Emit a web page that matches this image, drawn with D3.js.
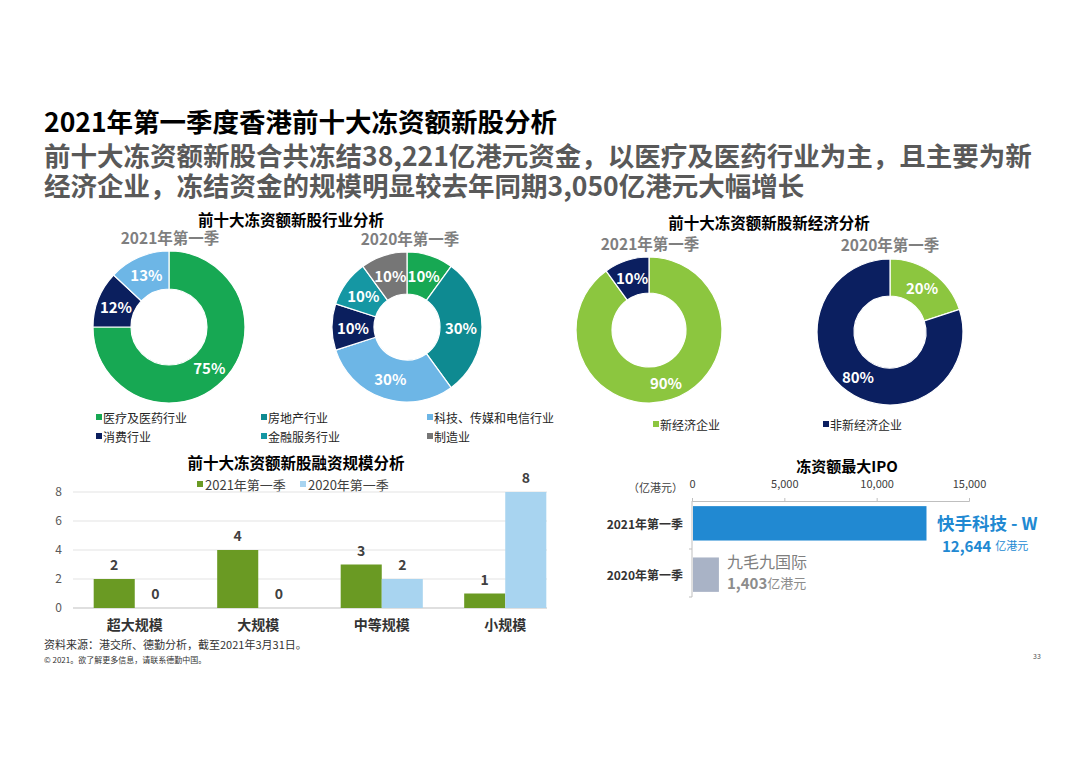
<!DOCTYPE html>
<html><head><meta charset="utf-8">
<script src="https://cdn.jsdelivr.net/npm/d3@7"></script>
<style>
body{margin:0;background:#fff;}
svg text{font-family:"Noto Sans CJK SC","Noto Sans",sans-serif;}
</style></head>
<body><svg id="c" width="1080" height="763"></svg>
<script>
// ---------- data ----------
const titleText = "2021年第一季度香港前十大冻资额新股分析";
const subtitleLines = ["前十大冻资额新股合共冻结38,221亿港元资金，以医疗及医药行业为主，且主要为新",
                       "经济企业，冻结资金的规模明显较去年同期3,050亿港元大幅增长"];

const industryLegend = ["医疗及医药行业","房地产行业","科技、传媒和电信行业","消费行业","金融服务行业","制造业"];
const industryColors = ["#17A853","#0E8A91","#6DB6E6","#0B1F5E","#1597A3","#767676"];
const industry2021Cats = ["医疗及医药行业","消费行业","科技、传媒和电信行业"];
const industry2021Vals = [75,12,13];
const industry2020Cats = ["医疗及医药行业","房地产行业","科技、传媒和电信行业","消费行业","金融服务行业","制造业"];
const industry2020Vals = [10,30,30,10,10,10];

const econCats = ["新经济企业","非新经济企业"];
const econColors = ["#8CC63F","#0B1F60"];
const econ2021Vals = [90,10];
const econ2020Vals = [20,80];

const sizeCats = ["超大规模","大规模","中等规模","小规模"];
const sizeSeries = ["2021年第一季","2020年第一季"];
const sizeColors = ["#6A9A23","#A8D4F0"];
const size2021 = [2,4,3,1];
const size2020 = [0,0,2,8];
const sizeTicks = [0,2,4,6,8];

const ipoCats = ["2021年第一季","2020年第一季"];
const ipoVals = [12644,1403];
const ipoNames = ["快手科技 - W","九毛九国际"];
const ipoColors = ["#2189D2","#A9B3C6"];
const ipoTicks = [0,5000,10000,15000];

// ---------- drawing ----------
const svg = d3.select("#c");
const CJK = '"Noto Sans CJK SC","Noto Sans",sans-serif';

svg.append("text").attr("x",44).attr("y",132).attr("font-size",26.5).attr("font-weight","bold")
  .attr("fill","#000").text(titleText);
subtitleLines.forEach((t,i)=>{
  svg.append("text").attr("x",44).attr("y",166+i*30).attr("font-size",26.5).attr("font-weight","bold")
    .attr("fill","#595959").text(t);
});

function centerText(x,y,t,size,color,weight){
  return svg.append("text").attr("x",x).attr("y",y).attr("text-anchor","middle")
    .attr("dominant-baseline","central").attr("font-size",size)
    .attr("font-weight",weight||"bold").attr("fill",color).text(t);
}

function donut(cx,cy,rOut,rIn,cats,vals,colorScale){
  const g = svg.append("g").attr("transform",`translate(${cx},${cy})`);
  const data = cats.map((c,i)=>({c,v:vals[i]}));
  const pie = d3.pie().sort(null).value(d=>d.v);
  const arc = d3.arc().innerRadius(rIn).outerRadius(rOut);
  const arcs = pie(data);
  g.selectAll("path").data(arcs).join("path").attr("d",arc)
    .attr("fill",d=>colorScale(d.data.c)).attr("stroke","#fff").attr("stroke-width",1.2);
  g.selectAll("text").data(arcs).join("text")
    .attr("transform",d=>`translate(${arc.centroid(d)})`)
    .attr("text-anchor","middle").attr("dominant-baseline","central")
    .attr("font-size",15).attr("font-weight","bold").attr("fill","#fff")
    .text(d=>d.data.v+"%");
}

// industry donuts
const indColor = d3.scaleOrdinal().domain(industryLegend).range(industryColors);
centerText(291,219,"前十大冻资额新股行业分析",15.5,"#000");
centerText(170,237,"2021年第一季",15.5,"#7F7F7F");
centerText(410,238,"2020年第一季",15.5,"#7F7F7F");
donut(169,327,76,38,industry2021Cats,industry2021Vals,indColor);
donut(407,327,75,33,industry2020Cats,industry2020Vals,indColor);
const legX = [96,261,427], legY=[417,436];
industryLegend.forEach((c,i)=>{
  const x = legX[i%3], y = legY[Math.floor(i/3)];
  svg.append("rect").attr("x",x).attr("y",y-3).attr("width",6).attr("height",6).attr("fill",indColor(c));
  svg.append("text").attr("x",x+7).attr("y",y).attr("dominant-baseline","central")
    .attr("font-size",12).attr("fill","#262626").text(c);
});

// new economy donuts
const ecoColor = d3.scaleOrdinal().domain(econCats).range(econColors);
centerText(769,222,"前十大冻资额新股新经济分析",15.5,"#000");
centerText(650,243,"2021年第一季",15.5,"#7F7F7F");
centerText(890,244,"2020年第一季",15.5,"#7F7F7F");
donut(649,330,73,37,econCats,econ2021Vals,ecoColor);
donut(890,332,73,36,econCats,econ2020Vals,ecoColor);
[653,823].forEach((x,i)=>{
  svg.append("rect").attr("x",x).attr("y",421).attr("width",6).attr("height",6).attr("fill",econColors[i]);
  svg.append("text").attr("x",x+7).attr("y",424).attr("dominant-baseline","central")
    .attr("font-size",12).attr("fill","#262626").text(econCats[i]);
});

// bar chart
centerText(296,462,"前十大冻资额新股融资规模分析",15.5,"#000");
const blx=[197,300];
sizeSeries.forEach((s,i)=>{
  svg.append("rect").attr("x",blx[i]).attr("y",481).attr("width",6).attr("height",6).attr("fill",sizeColors[i]);
  svg.append("text").attr("x",blx[i]+8).attr("y",484).attr("dominant-baseline","central")
    .attr("font-size",13).attr("fill","#404040").text(s);
});
const y = d3.scaleLinear().domain([0,8]).range([608,492]);
const x0 = d3.scaleBand().domain(sizeCats).range([73,567]).paddingInner(0.335).paddingOuter(0.1675);
const x1 = d3.scaleBand().domain(sizeSeries).range([0,x0.bandwidth()]);
const gridG = svg.append("g");
sizeTicks.forEach(t=>{
  gridG.append("line").attr("x1",73).attr("x2",547).attr("y1",y(t)).attr("y2",y(t))
    .attr("stroke",t===0?"#BFBFBF":"#E3E3E3").attr("stroke-width",1);
});
const yAxis = svg.append("g").attr("transform","translate(62,0)")
  .call(d3.axisLeft(y).tickValues(sizeTicks).tickSize(0).tickPadding(0));
yAxis.select(".domain").remove();
yAxis.selectAll("text").attr("font-size",12).attr("fill","#595959").attr("font-family",CJK);
const barData = [];
sizeCats.forEach((c,i)=>{
  barData.push({c,s:sizeSeries[0],v:size2021[i],col:sizeColors[0]});
  barData.push({c,s:sizeSeries[1],v:size2020[i],col:sizeColors[1]});
});
svg.append("g").selectAll("rect").data(barData).join("rect")
  .attr("x",d=>x0(d.c)+x1(d.s)).attr("width",x1.bandwidth())
  .attr("y",d=>y(d.v)).attr("height",d=>y(0)-y(d.v)).attr("fill",d=>d.col);
svg.append("g").selectAll("text").data(barData).join("text")
  .attr("x",d=>x0(d.c)+x1(d.s)+x1.bandwidth()/2).attr("y",d=>y(d.v)-9)
  .attr("text-anchor","middle").attr("font-size",14).attr("font-weight","bold").attr("fill","#404040")
  .text(d=>d.v);
const xAxis = svg.append("g").attr("transform","translate(0,608)")
  .call(d3.axisBottom(x0).tickSize(0).tickPadding(12));
xAxis.select(".domain").remove();
xAxis.selectAll("text").attr("font-size",14).attr("font-weight","bold").attr("fill","#333").attr("font-family",CJK);

// footnotes
svg.append("text").attr("x",44).attr("y",649).attr("font-size",11).attr("fill","#333")
  .text("资料来源：港交所、德勤分析，截至2021年3月31日。");
svg.append("text").attr("x",44).attr("y",663).attr("font-size",8).attr("fill","#333")
  .text("© 2021。欲了解更多信息，请联系德勤中国。");
svg.append("text").attr("x",1033).attr("y",659).attr("font-size",7).attr("fill","#555").text("33");

// IPO chart
centerText(847,465,"冻资额最大IPO",15,"#000");
const xi = d3.scaleLinear().domain([0,15000]).range([692,969]);
const yi = d3.scaleBand().domain(ipoCats).range([501,597]).paddingInner(0.33).paddingOuter(0.1);
const ia = svg.append("g").attr("transform","translate(0,501)")
  .call(d3.axisTop(xi).tickValues(ipoTicks).tickFormat(d3.format(",")).tickSize(3).tickPadding(10));
ia.select(".domain").attr("stroke","#BFBFBF");
ia.selectAll("line").attr("stroke","#BFBFBF");
ia.selectAll("text").attr("font-size",11).attr("fill","#404040").attr("font-family",CJK);
svg.append("text").attr("x",683).attr("y",487).attr("text-anchor","end").attr("dominant-baseline","central")
  .attr("font-size",11).attr("fill","#404040").text("（亿港元）");
svg.append("line").attr("x1",692).attr("x2",692).attr("y1",501).attr("y2",597).attr("stroke","#BFBFBF");
[549,597].forEach(v=>svg.append("line").attr("x1",689).attr("x2",692).attr("y1",v).attr("y2",v).attr("stroke","#BFBFBF"));
svg.append("g").selectAll("rect").data(ipoCats).join("rect")
  .attr("x",xi(0)+1).attr("y",d=>yi(d)).attr("height",yi.bandwidth())
  .attr("width",(d,i)=>xi(ipoVals[i])-xi(0)).attr("fill",(d,i)=>ipoColors[i]);
ipoCats.forEach((c,i)=>{
  svg.append("text").attr("x",683).attr("y",yi(c)+yi.bandwidth()/2).attr("text-anchor","end")
    .attr("dominant-baseline","central").attr("font-size",12).attr("font-weight","bold").attr("fill","#333").text(c);
});
svg.append("text").attr("x",937).attr("y",522).attr("dominant-baseline","central")
  .attr("font-size",17.5).attr("font-weight","bold").attr("fill",ipoColors[0]).text(ipoNames[0]);
const t1 = svg.append("text").attr("x",942).attr("y",545).attr("dominant-baseline","central");
t1.append("tspan").attr("font-size",15).attr("font-weight","bold").attr("fill",ipoColors[0]).text(d3.format(",")(ipoVals[0]));
t1.append("tspan").attr("font-size",11).attr("fill",ipoColors[0]).attr("dx",4).text("亿港元");
svg.append("text").attr("x",727).attr("y",561).attr("dominant-baseline","central")
  .attr("font-size",16).attr("fill","#7F7F7F").text(ipoNames[1]);
const t2 = svg.append("text").attr("x",727).attr("y",582).attr("dominant-baseline","central");
t2.append("tspan").attr("font-size",15).attr("font-weight","bold").attr("fill","#8C8C8C").text(d3.format(",")(ipoVals[1]));
t2.append("tspan").attr("font-size",13).attr("fill","#8C8C8C").text("亿港元");
</script></body></html>
